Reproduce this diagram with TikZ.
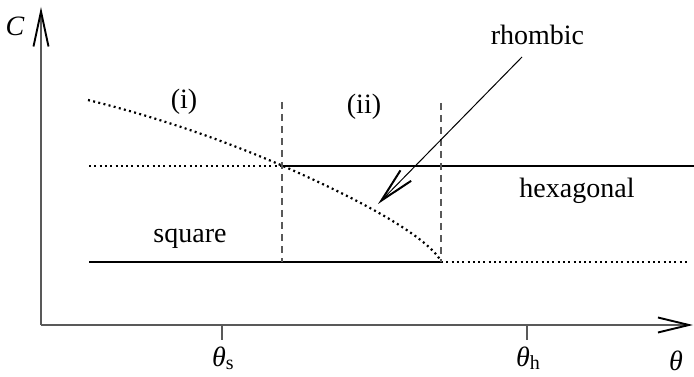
\documentclass[tikz,border=0pt]{standalone}
\usepackage{fontspec}
\setmainfont{Liberation Serif}
\usetikzlibrary{arrows.meta}
\begin{document}
\begin{tikzpicture}[x=1pt,y=-1pt,
  lbl/.style={font=\fontsize{28}{30}\selectfont, inner sep=0pt},
  axisline/.style={draw=black!65, line width=1.4pt},
  solidline/.style={draw=black, line width=2.8pt},
  dotline/.style={draw=black, line width=2.2pt, dash pattern=on 2pt off 3.3pt},
  dashline/.style={draw=black!65, line width=1.4pt, dash pattern=on 7pt off 5pt},
  ticks/.style={draw=black!65, line width=1.6pt}]
\useasboundingbox (0,0) rectangle (694,377);
% axes
\coordinate (O) at (41,325);
\coordinate (ytop) at (41,7);
\coordinate (xend) at (693,325);
\draw[axisline, -{Straight Barb[length=35pt,width=15pt,line width=1.9pt,color=black]}] (O) -- (ytop);
\draw[axisline, -{Straight Barb[length=31pt,width=15pt,line width=1.9pt,color=black]}] (O) -- (xend);
% ticks
\coordinate (ts) at (222,325); \coordinate (tsb) at (222,340);
\coordinate (th) at (527,325); \coordinate (thb) at (527,340);
\draw[ticks] (ts) -- (tsb);
\draw[ticks] (th) -- (thb);
% labels on axes
\node[lbl, anchor=base] (Clab) at (15,36) {\itshape C};
\node[lbl, anchor=base] (thetas) at (223,366) {\itshape θ\raisebox{-3pt}{\fontsize{20}{20}\selectfont\upshape s}};
\node[lbl, anchor=base] (thetah) at (528,366) {\itshape θ\raisebox{-3pt}{\fontsize{20}{20}\selectfont\upshape h}};
\node[lbl, anchor=base] (theta) at (676,370) {\itshape θ};
% lines
\coordinate (a1) at (89,166); \coordinate (a2) at (282,166); \coordinate (a3) at (694,166);
\coordinate (b1) at (89,262); \coordinate (b2) at (441,262); \coordinate (b3) at (690,262);
\draw[dotline] (a1) -- (a2);
\draw[solidline] (a2) -- (a3);
\draw[solidline] (b1) -- (b2);
\draw[dotline] (b2) -- (b3);
% dashed verticals
\coordinate (d1t) at (282,102); \coordinate (d1b) at (282,262);
\coordinate (d2t) at (441,103); \coordinate (d2b) at (441,262);
\draw[dashline] (d1t) -- (d1b);
\draw[dashline] (d2t) -- (d2b);
% dotted curve
\coordinate (c0) at (88,100);
\coordinate (c1) at (153,116);
\coordinate (c2) at (218,138);
\coordinate (c3) at (283,166);
\coordinate (c4) at (363,201);
\coordinate (c5) at (426,236);
\coordinate (c6) at (441,261);
\draw[dotline] (c0) .. controls (c1) and (c2) .. (c3) .. controls (c4) and (c5) .. (c6);
% labels
\node[lbl] (i) at (184,102) {(i)};
\node[lbl] (ii) at (364,107) {(ii)};
\node[lbl, anchor=base] (sq) at (190,243) {square};
\node[lbl, anchor=base] (hex) at (577,198) {hexagonal};
\node[lbl, anchor=base] (rh) at (537.5,45) {rhombic};
% arrow
\coordinate (arrS) at (522,57);
\coordinate (arrE) at (378,204);
\draw[black, line width=1pt, -{Straight Barb[length=35pt,width=15pt,line width=2pt]}] (arrS) -- (arrE);
\end{tikzpicture}
\end{document}
